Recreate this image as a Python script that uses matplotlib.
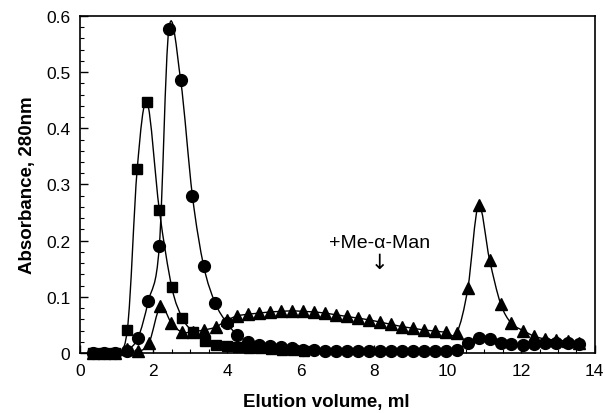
import numpy as np
import matplotlib
matplotlib.use("Agg")
import matplotlib.pyplot as plt
from matplotlib.path import Path
from matplotlib.patches import PathPatch
from matplotlib.ticker import MultipleLocator, FuncFormatter

plt.rcParams['font.family'] = ['Liberation Sans', 'DejaVu Sans']

# ---- data ----
sq_x = [0.35, 0.65, 0.95, 1.29, 1.56, 1.83, 2.16, 2.50, 2.79, 3.08, 3.40, 3.70, 4.00,
        4.30, 4.60, 4.90, 5.20, 5.50, 5.80, 6.10]
sq_y = [0.0, 0.0, 0.0, 0.041, 0.328, 0.446, 0.255, 0.117, 0.062, 0.037, 0.021, 0.015,
        0.012, 0.010, 0.009, 0.008, 0.007, 0.006, 0.005, 0.004]

ci_x = [0.35, 0.65, 0.95, 1.27, 1.58, 1.86, 2.16, 2.42, 2.74, 3.06, 3.37, 3.68, 3.99,
        4.28, 4.58, 4.88, 5.17, 5.47, 5.77, 6.07, 6.37, 6.66, 6.96, 7.26, 7.56, 7.86,
        8.16, 8.46, 8.76, 9.06, 9.36, 9.66, 9.95, 10.25, 10.55, 10.84, 11.14, 11.44,
        11.73, 12.05, 12.35, 12.64, 12.96, 13.26, 13.56]
ci_y = [0.0, 0.0, 0.0, 0.004, 0.027, 0.092, 0.190, 0.577, 0.486, 0.280, 0.154, 0.089,
        0.054, 0.032, 0.020, 0.015, 0.012, 0.010, 0.008, 0.006, 0.005, 0.004, 0.004,
        0.003, 0.003, 0.003, 0.003, 0.003, 0.003, 0.003, 0.003, 0.004, 0.004, 0.006,
        0.018, 0.027, 0.024, 0.018, 0.016, 0.015, 0.016, 0.017, 0.018, 0.018, 0.016]

tr_x = [0.35, 0.65, 0.95, 1.27, 1.58, 1.88, 2.19, 2.49, 2.78, 3.08, 3.38, 3.69, 3.99,
        4.28, 4.58, 4.88, 5.17, 5.47, 5.77, 6.07, 6.37, 6.66, 6.96, 7.26, 7.56, 7.86,
        8.16, 8.46, 8.76, 9.06, 9.36, 9.66, 9.95, 10.25, 10.55, 10.84, 11.14, 11.44,
        11.73, 12.05, 12.35, 12.64, 12.96, 13.26, 13.56]
tr_y = [0.0, 0.0, 0.0, 0.007, 0.003, 0.018, 0.083, 0.053, 0.037, 0.038, 0.041, 0.046,
        0.058, 0.066, 0.069, 0.071, 0.073, 0.074, 0.075, 0.074, 0.073, 0.071, 0.068,
        0.065, 0.062, 0.059, 0.055, 0.051, 0.047, 0.044, 0.041, 0.039, 0.037, 0.036,
        0.115, 0.263, 0.166, 0.088, 0.053, 0.040, 0.030, 0.025, 0.023, 0.021, 0.018]

x_ticks = [0, 2, 4, 6, 8, 10, 12, 14]
y_ticks = [0, 0.1, 0.2, 0.3, 0.4, 0.5, 0.6]
annot_text = "+Me-\u03b1-Man"
annot_pos = (8.15, 0.197)
arrow_pos = (8.15, 0.162)


def smooth_path(xs, ys, t=0.5):
    """Catmull-Rom style cubic Bezier path through the data points."""
    xs = np.asarray(xs, float)
    ys = np.asarray(ys, float)
    n = len(xs)
    verts = [(xs[0], ys[0])]
    codes = [Path.MOVETO]
    for i in range(n - 1):
        x0, y0 = (xs[i - 1], ys[i - 1]) if i > 0 else (xs[i], ys[i])
        x1, y1 = xs[i], ys[i]
        x2, y2 = xs[i + 1], ys[i + 1]
        x3, y3 = (xs[i + 2], ys[i + 2]) if i + 2 < n else (x2, y2)
        c1 = (x1 + (x2 - x0) * t / 3, y1 + (y2 - y0) * t / 3)
        c2 = (x2 - (x3 - x1) * t / 3, y2 - (y3 - y1) * t / 3)
        verts += [c1, c2, (x2, y2)]
        codes += [Path.CURVE4] * 3
    return Path(verts, codes)


fig = plt.figure(figsize=(6.05, 4.14), dpi=100)
ax = fig.add_axes([0.132, 0.145, 0.851, 0.814])

for xs, ys, mk, ms in [(sq_x, sq_y, 's', 7.5), (ci_x, ci_y, 'o', 8.5), (tr_x, tr_y, '^', 8.5)]:
    ax.add_patch(PathPatch(smooth_path(xs, ys), facecolor='none', edgecolor='black',
                           lw=1.0, transform=ax.transData, zorder=2))
    ax.plot(xs, ys, linestyle='none', marker=mk, markersize=ms, color='black',
            markeredgecolor='black', zorder=3, clip_on=False)

ax.set_xlim(0, 14)
ax.set_ylim(0, 0.6)
ax.set_xticks(x_ticks)
ax.set_yticks(y_ticks)
ax.xaxis.set_minor_locator(MultipleLocator(0.5))
ax.yaxis.set_minor_locator(MultipleLocator(0.02))
ax.yaxis.set_major_formatter(FuncFormatter(lambda v, p: "0" if abs(v) < 1e-9 else f"{v:.1f}"))
ax.tick_params(which='major', direction='in', length=6, width=1, labelsize=12.5, pad=7,
               top=False, right=False)
ax.tick_params(which='minor', direction='in', length=3, width=0.8, top=False, right=False)
for s in ax.spines.values():
    s.set_linewidth(1.2)

ax.set_xlabel("Elution volume, ml", fontsize=13.5, fontweight='bold')
ax.xaxis.set_label_coords(0.478, -0.118)
ax.set_ylabel("Absorbance, 280nm", fontsize=13.5, fontweight='bold', labelpad=7)

ax.text(annot_pos[0], annot_pos[1], annot_text, ha='center', va='center', fontsize=14)
ax.text(arrow_pos[0], arrow_pos[1], "\u2193", ha='center', va='center', fontsize=15,
        family=['DejaVu Sans'])

fig.savefig("out.png", dpi=100)
